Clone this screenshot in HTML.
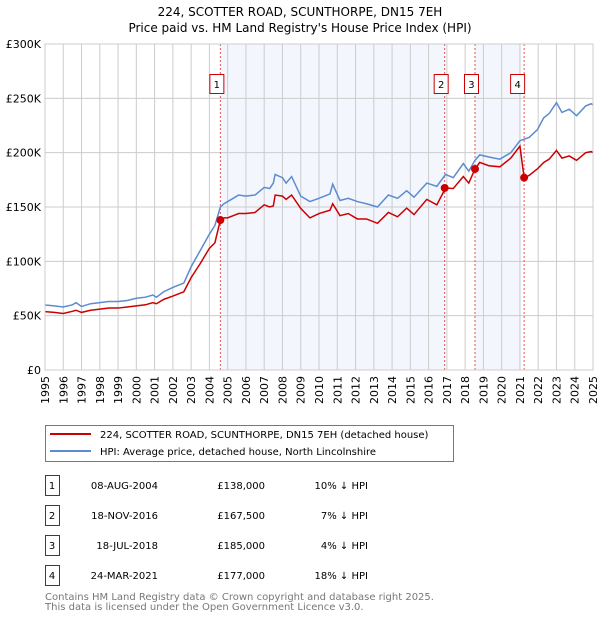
<!DOCTYPE html>
<html><head><meta charset="utf-8"><style>
body{margin:0;background:#fff;font-family:"DejaVu Sans","Liberation Sans",sans-serif;}
svg text{font-family:"DejaVu Sans","Liberation Sans",sans-serif;}
</style></head><body>
<svg id="chart" width="600" height="620" xmlns="http://www.w3.org/2000/svg">
<text x="300" y="16" text-anchor="middle" font-size="12">224, SCOTTER ROAD, SCUNTHORPE, DN15 7EH</text>
<text x="300" y="32" text-anchor="middle" font-size="12">Price paid vs. HM Land Registry's House Price Index (HPI)</text>
<g id="plot"></g>
<g>
<rect x="45.5" y="425.5" width="408" height="36" fill="#fff" stroke="#777"/>
<line x1="50" y1="434" x2="91" y2="434" stroke="#cc0000" stroke-width="2"/>
<text x="100" y="438" font-size="10">224, SCOTTER ROAD, SCUNTHORPE, DN15 7EH (detached house)</text>
<line x1="50" y1="451" x2="91" y2="451" stroke="#5b8bd0" stroke-width="2"/>
<text x="100" y="455" font-size="10">HPI: Average price, detached house, North Lincolnshire</text>
</g>
<g id="table" font-size="10"></g>
<text x="45" y="600" font-size="10" fill="#777">Contains HM Land Registry data © Crown copyright and database right 2025.</text>
<text x="45" y="610" font-size="10" fill="#777">This data is licensed under the Open Government Licence v3.0.</text>
</svg>
<script>
const hpiYears=[1995,1995.5,1996,1996.5,1996.7,1997,1997.5,1998,1998.5,1999,1999.5,2000,2000.5,2000.9,2001.1,2001.5,2002,2002.3,2002.6,2003,2003.5,2004,2004.3,2004.6,2004.8,2005,2005.3,2005.6,2006,2006.5,2007,2007.3,2007.5,2007.6,2008,2008.2,2008.5,2009,2009.5,2010,2010.6,2010.75,2011.15,2011.6,2012.1,2012.6,2013.2,2013.8,2014.3,2014.8,2015.2,2015.9,2016.45,2016.93,2017.35,2017.9,2018.2,2018.54,2018.8,2019.3,2019.9,2020.5,2021.0,2021.5,2021.95,2022.3,2022.6,2023.0,2023.3,2023.7,2024.1,2024.6,2024.9,2025.0];
const hpiValues=[59.8,59,58,60,62,58.5,61,62,63,63,64,66,67,69,67,72,76,78,80,95,110,125,133,150,153,155,158,161,160,161,168,167,172,180,177,172,178,160,155,158,162,171,156,158,155,153,150,161,158,165,159,172,169,180,177,190,183,193,198,196,194,200,211,214,221,232,236,246,237,240,234,243,245,244];
const saleYears=[1995,1995.5,1996,1996.5,1996.7,1997,1997.5,1998,1998.5,1999,1999.5,2000,2000.5,2000.9,2001.1,2001.5,2002,2002.3,2002.6,2003,2003.5,2004,2004.3,2004.6,2004.8,2005,2005.3,2005.6,2006,2006.5,2007,2007.3,2007.5,2007.6,2008,2008.2,2008.5,2009,2009.5,2010,2010.6,2010.75,2011.15,2011.6,2012.1,2012.6,2013.2,2013.8,2014.3,2014.8,2015.2,2015.9,2016.45,2016.93,2017.35,2017.9,2018.2,2018.54,2018.8,2019.3,2019.9,2020.5,2021.0,2021.23,2021.5,2021.95,2022.3,2022.6,2023.0,2023.3,2023.7,2024.1,2024.6,2024.9,2025.0];
const saleValues=[53.7,53,52,54,55,53,55,56,57,57,58,59,60,62,61,65,68,70,72,85,98,112,117,138,140,140,142,144,144,145,152,150,151,161,160,157,161,148.7,140,144,147,153,142,144,139,139,135,145,141,149,143,157,152,167.5,167,178,172,185,191,188,187,195,206,177,179,185,191,194,202,195,197,193,200,201,200];
const saleX=[2004.6,2016.88,2018.54,2021.23];
const saleP=[138,167.5,185,177];
const saleLabels=["1","2","3","4"];
const saleDates=["08-AUG-2004","18-NOV-2016","18-JUL-2018","24-MAR-2021"];
const salePrices=["£138,000","£167,500","£185,000","£177,000"];
const saleDiffs=["10% ↓ HPI","7% ↓ HPI","4% ↓ HPI","18% ↓ HPI"];
const yTicks=[0,50,100,150,200,250,300];
const yTickLabels=["£0","£50K","£100K","£150K","£200K","£250K","£300K"];
const xTicks=[];for(let y=1995;y<=2025;y++)xTicks.push(y);

const L=45,R=593,T=44,B=370;
const xs=y=>L+(y-1995)/30*(R-L);
const ys=v=>B-v/300*(B-T);
const NS="http://www.w3.org/2000/svg";
const plot=document.getElementById('plot');
function mk(tag,attrs,parent){const e=document.createElementNS(NS,tag);for(const k in attrs)e.setAttribute(k,attrs[k]);(parent||plot).appendChild(e);return e;}
let s1=mk('rect',{x:xs(saleX[0]),y:T,width:xs(saleX[1])-xs(saleX[0]),height:B-T,fill:'#eef2fc',opacity:0.7});


let s2=mk('rect',{x:xs(saleX[2]),y:T,width:xs(saleX[3])-xs(saleX[2])-3,height:B-T,fill:'#eef2fc',opacity:0.7});


xTicks.forEach(y=>{
 let g=mk('line',{x1:xs(y),x2:xs(y),y1:T,y2:B,stroke:'#cccccc','stroke-width':1});
 
 
 const tx=xs(y)+4, ty=B+6;
 let t=mk('text',{x:tx,y:ty,'font-size':11,'text-anchor':'end',transform:'rotate(-90 '+tx+' '+ty+')'});
 t.textContent=String(y);
 
 
});
yTicks.forEach((v,i)=>{
 let g=mk('line',{x1:L,x2:R,y1:ys(v),y2:ys(v),stroke:'#cccccc','stroke-width':1});
 
 
 let t=mk('text',{x:L-4,y:ys(v)+4,'font-size':11,'text-anchor':'end'});
 t.textContent=yTickLabels[i];
 
 
});
saleX.forEach((x,i)=>{
 let l=mk('line',{x1:xs(x),x2:xs(x),y1:T,y2:B,stroke:'#e05555','stroke-width':1,'stroke-dasharray':'2,2'});
 
 
 let bx=xs(x)-(i===3?3:0)-10;
 let r=mk('rect',{x:bx-0.5,y:74.5,width:14,height:19,fill:'#fff',stroke:'#cc0000'});
 
 
 let t=mk('text',{x:bx+6.5,y:88,'font-size':10,'text-anchor':'middle'});
 t.textContent=saleLabels[i];
 
 
});
let hp=mk('polyline',{points:hpiYears.map((y,i)=>xs(y)+','+ys(hpiValues[i])).join(' '),fill:'none',stroke:'#5b8bd0','stroke-width':1.5});


let pp=mk('polyline',{points:saleYears.map((y,i)=>xs(y)+','+ys(saleValues[i])).join(' '),fill:'none',stroke:'#cc0000','stroke-width':1.5});


saleX.forEach((x,i)=>{
 let c=mk('circle',{cx:xs(x),cy:ys(saleP[i]),r:4,fill:'#cc0000'});
 
 
});
let fr=mk('rect',{x:L,y:T,width:R-L,height:B-T,fill:'none',stroke:'#cccccc'});


const tb=document.getElementById('table');
saleLabels.forEach((lab,i)=>{
 const y=475+i*30;
 let r=mk('rect',{x:45.5,y:y+0.5,width:14,height:20,fill:'#fff',stroke:'#cc0000'},tb);
 
 
 const cells=[[52,'middle',lab],[158,'end',saleDates[i]],[265,'end',salePrices[i]],[368,'end',saleDiffs[i]]];
 cells.forEach(c=>{
  let t=mk('text',{x:c[0],y:y+14,'text-anchor':c[1]},tb);
  t.textContent=c[2];
  
  
 });
});
</script>
</body></html>
